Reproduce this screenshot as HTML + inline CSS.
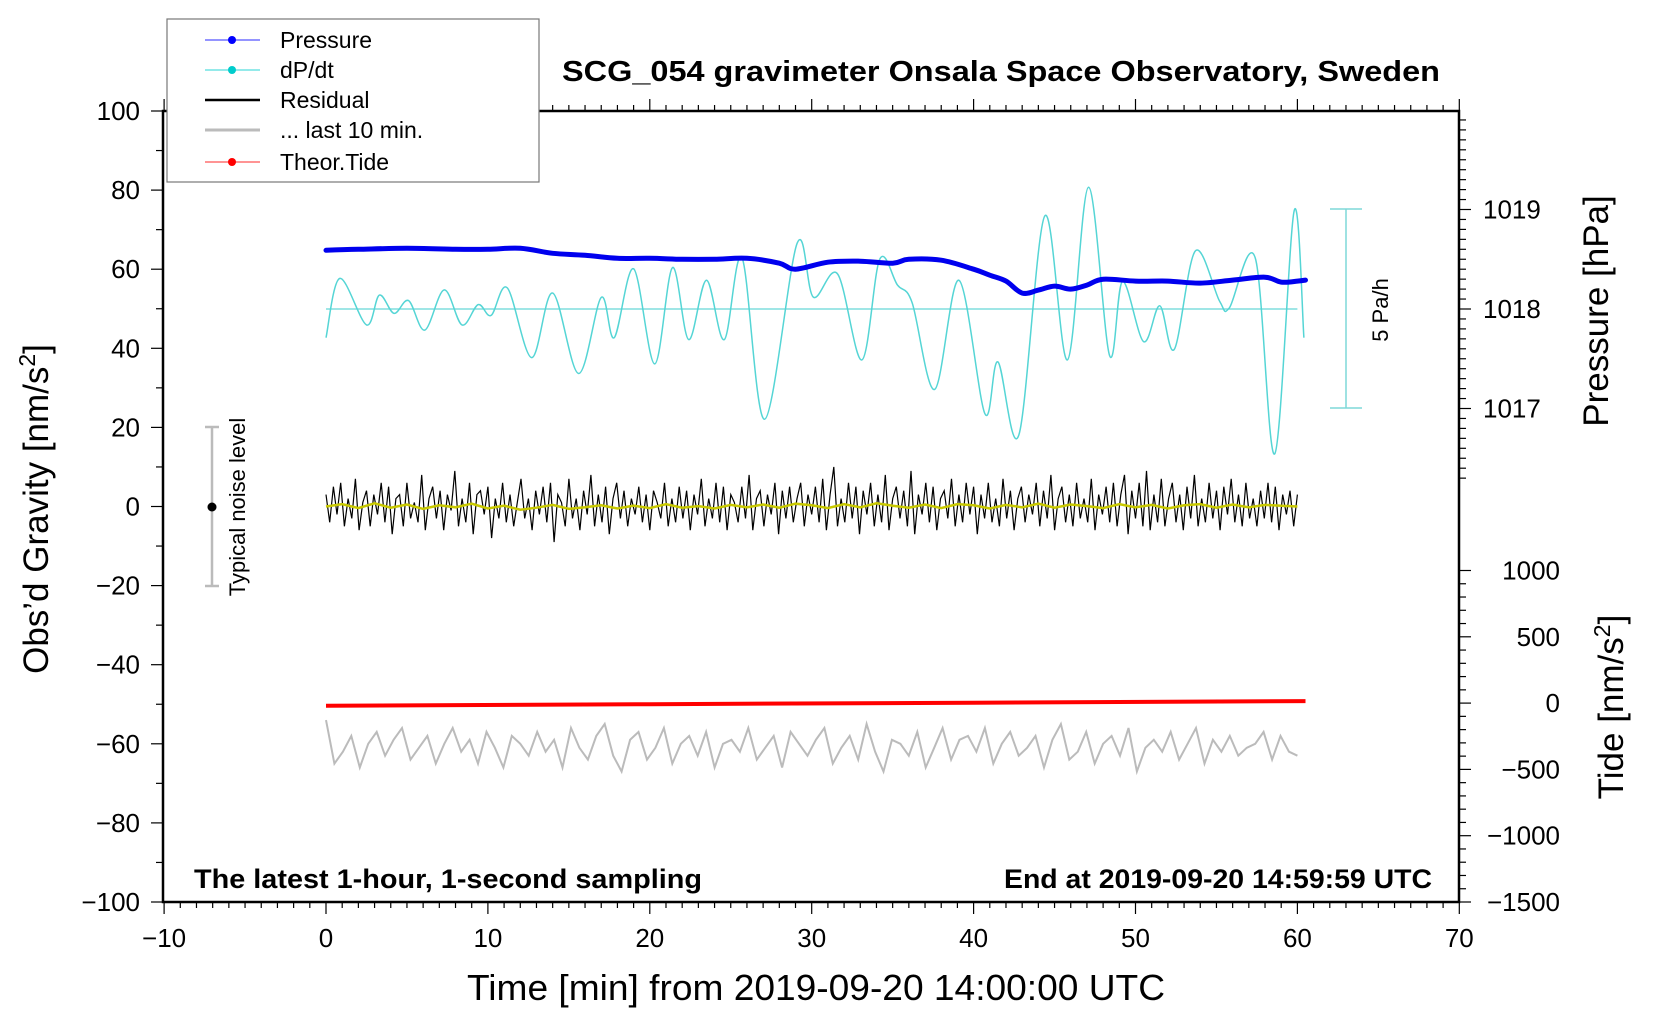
<!DOCTYPE html>
<html><head><meta charset="utf-8"><style>
body{margin:0;background:#fff;}
svg{display:block;font-family:"Liberation Sans",Arial,sans-serif;}
</style></head><body>
<svg id="chart" width="1660" height="1020" viewBox="0 0 1660 1020" xmlns="http://www.w3.org/2000/svg">
<rect x="0" y="0" width="1660" height="1020" fill="#fff"/>
<g id="series"></g>
<g id="axes"></g>
<text x="562" y="81" font-size="29" font-weight="bold" textLength="878" lengthAdjust="spacingAndGlyphs">SCG_054 gravimeter Onsala Space Observatory, Sweden</text>
<text x="194" y="888" font-size="27" font-weight="bold" textLength="508" lengthAdjust="spacingAndGlyphs">The latest 1-hour, 1-second sampling</text>
<text x="1004" y="888" font-size="27" font-weight="bold" textLength="428" lengthAdjust="spacingAndGlyphs">End at 2019-09-20 14:59:59 UTC</text>
<text x="816" y="1000" font-size="36" text-anchor="middle" textLength="698" lengthAdjust="spacingAndGlyphs">Time [min] from 2019-09-20 14:00:00 UTC</text>
<text transform="translate(48,509) rotate(-90)" font-size="35" text-anchor="middle">Obs’d Gravity [nm/s<tspan font-size="23" dy="-13">2</tspan><tspan dy="13">]</tspan></text>
<text transform="translate(1608,311) rotate(-90)" font-size="35" text-anchor="middle">Pressure [hPa]</text>
<text transform="translate(1623,707) rotate(-90)" font-size="35" text-anchor="middle">Tide [nm/s<tspan font-size="23" dy="-13">2</tspan><tspan dy="13">]</tspan></text>
<g>
<line x1="212" y1="427" x2="212" y2="586" stroke="#bbb" stroke-width="2.5"/>
<line x1="205" y1="427" x2="219" y2="427" stroke="#bbb" stroke-width="2.5"/>
<line x1="205" y1="586" x2="219" y2="586" stroke="#bbb" stroke-width="2.5"/>
<circle cx="212" cy="507" r="4.5" fill="#000"/>
<text transform="translate(245,507) rotate(-90)" font-size="22" text-anchor="middle">Typical noise level</text>
</g>
<g>
<line x1="1346" y1="209" x2="1346" y2="408" stroke="#7fd8d8" stroke-width="1.5"/>
<line x1="1330" y1="209" x2="1362" y2="209" stroke="#7fd8d8" stroke-width="1.5"/>
<line x1="1330" y1="408" x2="1362" y2="408" stroke="#7fd8d8" stroke-width="1.5"/>
<text transform="translate(1388,310) rotate(-90)" font-size="22" text-anchor="middle">5 Pa/h</text>
</g>
<g>
<rect x="167" y="19" width="372" height="163" fill="#fff" stroke="#777" stroke-width="1.2"/>
<g><line x1="205" y1="40" x2="260" y2="40" stroke="#5555ff" stroke-width="1.2"/><circle cx="232" cy="40" r="4" fill="#0000ff"/><text x="280" y="48" font-size="23">Pressure</text></g>
<g><line x1="205" y1="70" x2="260" y2="70" stroke="#55dddd" stroke-width="1.2"/><circle cx="232" cy="70" r="4" fill="#00cccc"/><text x="280" y="78" font-size="23">dP/dt</text></g>
<g><line x1="205" y1="100" x2="260" y2="100" stroke="#000" stroke-width="2.5"/><text x="280" y="108" font-size="23">Residual</text></g>
<g><line x1="205" y1="130" x2="260" y2="130" stroke="#bbb" stroke-width="3"/><text x="280" y="138" font-size="23">... last 10 min.</text></g>
<g><line x1="205" y1="162" x2="260" y2="162" stroke="#ff5555" stroke-width="1.2"/><circle cx="232" cy="162" r="4" fill="#ff0000"/><text x="280" y="170" font-size="23">Theor.Tide</text></g>
</g>
</svg>
<script>
const xTickLabels=[-10,0,10,20,30,40,50,60,70];
const yTickLabels=[100,80,60,40,20,0,-20,-40,-60,-80,-100];
const pTickLabels=[1019,1018,1017];
const tTickLabels=[1000,500,0,-500,-1000,-1500];
const pressureT=[0,2,5,8,10,12,14,16,18,20,22,24,26,28,29,31,33,35,36,38,40,41,42,43,44,45,46,47,48,50,52,54,56,58,59,60,60.5];
const pressureV=[1018.59,1018.60,1018.61,1018.60,1018.60,1018.61,1018.56,1018.54,1018.51,1018.51,1018.50,1018.50,1018.51,1018.46,1018.40,1018.47,1018.48,1018.46,1018.50,1018.49,1018.40,1018.34,1018.28,1018.16,1018.19,1018.23,1018.20,1018.24,1018.30,1018.28,1018.28,1018.26,1018.29,1018.32,1018.27,1018.28,1018.29];
const dpdtT=[0,0.85,2.5,3.3,4.2,5.1,6.1,7.3,8.4,9.4,10.2,11.2,12.7,14,15.6,17,17.8,19,20.3,21.4,22.4,23.5,24.6,25.7,27.1,29.1,30.1,31.6,33.1,34.2,35.3,36.2,37.6,39.1,40.7,41.5,42.8,44.4,45.8,47.1,48.4,49.2,50.5,51.5,52.4,53.7,55.2,55.8,57.4,58.6,59.8,60.4];
const dpdtV=[-0.72,0.77,-0.40,0.35,-0.11,0.21,-0.53,0.48,-0.40,0.11,-0.16,0.53,-1.22,0.40,-1.62,0.29,-0.72,1.01,-1.38,1.04,-0.77,0.72,-0.77,1.28,-2.77,1.65,0.30,0.88,-1.28,1.25,0.60,0.16,-2.02,0.72,-2.63,-1.33,-3.16,2.34,-1.28,3.06,-1.17,0.69,-0.82,0.08,-1.01,1.46,0.19,0.03,1.28,-3.64,2.47,-0.72];
const residualV=[3,-4,5,-2,6,-5,2,-3,7,-6,1,4,-5,3,-2,6,-4,5,-7,2,3,-5,6,-3,1,-4,8,-6,2,5,-3,4,-6,3,-1,9,-5,2,-4,6,-7,3,4,-2,5,-8,2,-3,6,-4,3,-5,1,7,-3,2,-6,4,-2,5,-4,6,-9,3,1,-5,7,-3,2,-6,4,-2,8,-5,3,-4,5,-7,2,6,-3,4,-5,2,-2,5,-4,3,-6,4,1,-3,6,-5,2,-4,5,-3,4,-6,3,-2,7,-5,2,-3,6,-4,5,-6,3,1,-4,5,-3,8,-6,2,4,-5,3,-2,6,-7,4,-3,5,-4,2,6,-5,3,-2,5,-4,7,-6,3,10,-5,2,-4,6,-3,5,-7,4,-2,6,-5,3,-4,8,-6,2,5,-3,4,-5,9,-7,3,-2,6,-4,5,-6,2,4,-3,7,-5,3,-4,6,-2,5,-7,3,-3,6,-4,2,-5,7,-3,4,-6,2,5,-4,3,-2,6,-5,4,-3,8,-6,2,5,-4,3,-5,6,-3,2,-4,7,-6,3,-2,5,-4,6,-5,3,8,-7,4,-3,6,-5,9,-6,3,-4,7,-5,2,6,-4,3,-6,5,-3,8,-5,2,-4,6,-3,4,-6,5,-2,7,-4,3,-5,6,-3,2,-5,4,-3,6,-4,5,-6,3,-2,4,-5,3];
const smoothV=[0,0.6,-0.4,0.8,-0.3,0.5,-0.6,0.3,-0.2,0.7,-0.5,0.2,-0.8,-0.3,0.4,-0.6,-0.2,0.3,-0.5,0.2,-0.4,0.6,-0.3,0.1,-0.5,0.4,-0.2,0.5,-0.3,0.7,0.3,-0.4,0.6,-0.2,0.8,0.2,-0.3,0.5,-0.4,0.6,0.3,-0.5,0.4,-0.2,0.7,-0.3,0.5,0.1,-0.4,0.6,-0.2,0.4,-0.5,0.3,0.6,-0.3,0.5,-0.2,0.4,0.2,0];
const last10V=[-54,-65,-62,-58,-66,-60,-57,-63,-59,-56,-64,-61,-58,-65,-60,-56,-62,-59,-65,-57,-61,-66,-58,-60,-63,-57,-62,-59,-66,-56,-61,-64,-58,-55,-63,-67,-59,-57,-64,-61,-56,-65,-60,-58,-63,-57,-66,-60,-59,-62,-56,-64,-61,-58,-66,-57,-60,-63,-59,-56,-65,-61,-58,-64,-55,-62,-67,-59,-60,-63,-57,-66,-61,-56,-64,-59,-58,-62,-56,-65,-60,-57,-63,-61,-58,-66,-59,-55,-64,-62,-57,-65,-60,-58,-63,-56,-67,-61,-59,-62,-57,-64,-60,-56,-65,-59,-62,-58,-63,-61,-60,-57,-64,-58,-62,-63];
const tideT=[0,20,40,60.5];
const tideV=[-20,-8,3,15];

const svgNS="http://www.w3.org/2000/svg";
const xs=t=>326+t*16.19;
const yL=v=>506.5-v*3.955;
const yP=p=>309-(p-1018)*99.5;
const yD=v=>309-v*39.8;
const yT=v=>902-(v+1500)*0.1326;
const PL=163,PR=1459,PT=111,PB=902;
const series=document.getElementById('series');
const axes=document.getElementById('axes');
function mk(tag,attrs,parent){const e=document.createElementNS(svgNS,tag);for(const k in attrs)e.setAttribute(k,attrs[k]);parent.appendChild(e);return e;}
function smoothPath(pts){let d='M'+pts[0][0].toFixed(1)+','+pts[0][1].toFixed(1);for(let i=0;i<pts.length-1;i++){const p0=pts[Math.max(0,i-1)],p1=pts[i],p2=pts[i+1],p3=pts[Math.min(pts.length-1,i+2)];const c1x=p1[0]+(p2[0]-p0[0])/6,c1y=p1[1]+(p2[1]-p0[1])/6,c2x=p2[0]-(p3[0]-p1[0])/6,c2y=p2[1]-(p3[1]-p1[1])/6;d+='C'+c1x.toFixed(1)+','+c1y.toFixed(1)+' '+c2x.toFixed(1)+','+c2y.toFixed(1)+' '+p2[0].toFixed(1)+','+p2[1].toFixed(1);}return d;}
function linePath(pts){return 'M'+pts.map(p=>p[0].toFixed(1)+','+p[1].toFixed(1)).join('L');}

const bl=mk('line',{x1:xs(0),y1:yD(0),x2:xs(60),y2:yD(0),stroke:'#66d6d6','stroke-width':1.2},series);


const dp=mk('path',{d:smoothPath(dpdtT.map((t,i)=>[xs(t),yD(dpdtV[i])])),fill:'none',stroke:'#55d5d5','stroke-width':1.5},series);


const pl=mk('path',{d:smoothPath(pressureT.map((t,i)=>[xs(t),yP(pressureV[i])])),fill:'none',stroke:'#0000ee','stroke-width':5,'stroke-linecap':'round'},series);


const rs=mk('path',{d:linePath(residualV.map((v,i)=>[xs(i*60/(residualV.length-1)),yL(v)])),fill:'none',stroke:'#000','stroke-width':1.2},series);


const sm=mk('path',{d:linePath(smoothV.map((v,i)=>[xs(i*60/(smoothV.length-1)),yL(v)])),fill:'none',stroke:'#c8c800','stroke-width':2.5},series);


const l10=mk('path',{d:linePath(last10V.map((v,i)=>[xs(i*60/(last10V.length-1)),yL(v)])),fill:'none',stroke:'#bbb','stroke-width':2},series);


const td=mk('path',{d:linePath(tideT.map((t,i)=>[xs(t),yT(tideV[i])])),fill:'none',stroke:'#ff0000','stroke-width':4},series);



const fr=mk('rect',{x:PL,y:PT,width:PR-PL,height:PB-PT,fill:'none',stroke:'#000','stroke-width':2.5},axes);


for(let t=-10;t<=70;t++){const X=xs(t),maj=(t%10===0);mk('line',{x1:X,y1:PB,x2:X,y2:PB+(maj?12:6),stroke:'#000','stroke-width':1.2},axes);mk('line',{x1:X,y1:PT,x2:X,y2:PT-(maj?12:6),stroke:'#000','stroke-width':1.2},axes);}
xTickLabels.forEach(v=>{const e=mk('text',{x:xs(v),y:947,'font-size':26,'text-anchor':'middle'},axes);e.textContent=String(v).replace('-','\u2212');});
for(let v=-100;v<=100;v+=10){const Y=yL(v),maj=(v%20===0);mk('line',{x1:PL,y1:Y,x2:PL-(maj?12:7),y2:Y,stroke:'#000','stroke-width':1.2},axes);}
yTickLabels.forEach(v=>{const e=mk('text',{x:140,y:yL(v)+9,'font-size':26,'text-anchor':'end'},axes);e.textContent=String(v).replace('-','\u2212');});
for(let k=0;k<=36;k++){const p=1019.9-k*0.1;const Y=yP(p);if(Y<PT+2)continue;const maj=Math.abs(p-Math.round(p))<0.01;mk('line',{x1:PR,y1:Y,x2:PR+(maj?12:7),y2:Y,stroke:'#000','stroke-width':1.2},axes);}
pTickLabels.forEach(v=>{const e=mk('text',{x:1483,y:yP(v)+9,'font-size':26},axes);e.textContent=String(v);});
for(let v=1000;v>=-1500;v-=100){const Y=yT(v),maj=(v%500===0);mk('line',{x1:PR,y1:Y,x2:PR+(maj?12:7),y2:Y,stroke:'#000','stroke-width':1.2},axes);}
tTickLabels.forEach(v=>{const e=mk('text',{x:1560,y:yT(v)+9,'font-size':26,'text-anchor':'end'},axes);e.textContent=String(v).replace('-','\u2212');});
</script>
</body></html>
